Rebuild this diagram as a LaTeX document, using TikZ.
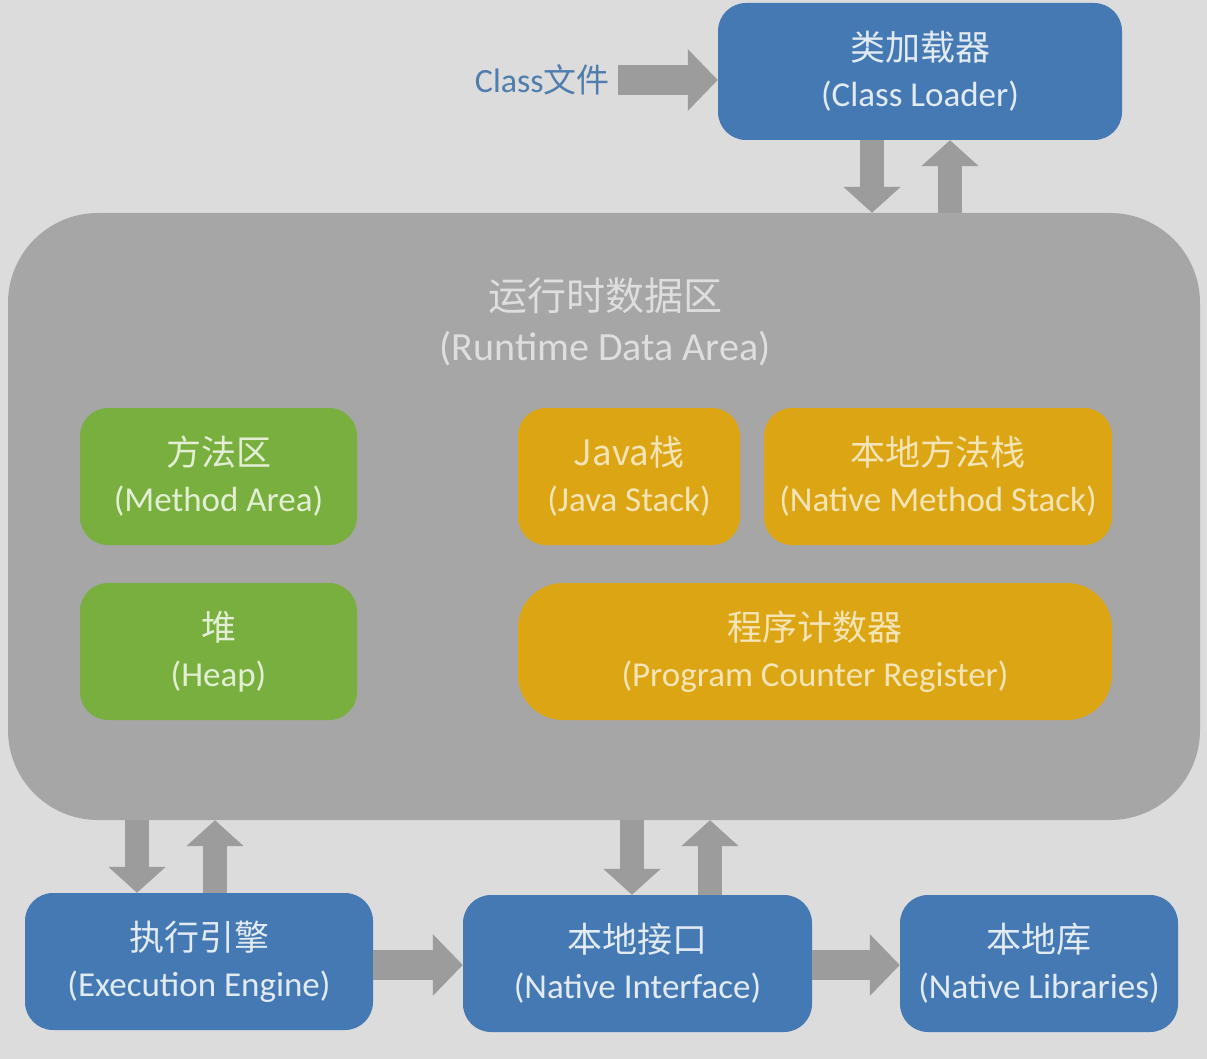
\documentclass[tikz,border=0pt]{standalone}
\usepackage{fontspec}
\setmainfont{Carlito}
\newfontfamily\cjk{Noto Sans CJK SC}
\usetikzlibrary{arrows.meta}
\definecolor{bgc}{HTML}{DCDCDC}
\definecolor{rtc}{HTML}{A6A6A6}
\definecolor{bluec}{HTML}{4479B3}
\definecolor{greenc}{HTML}{79AF3F}
\definecolor{orangec}{HTML}{DBA514}
\definecolor{arrc}{HTML}{9C9C9C}
\definecolor{bluetxt}{HTML}{E2EAF2}
\definecolor{greentxt}{HTML}{E2EFD4}
\definecolor{orangetxt}{HTML}{F4E4B6}
\definecolor{titletxt}{HTML}{DEDEDE}
\definecolor{classtxt}{HTML}{4F7DAD}
\newcommand{\cjkl}[1]{{\cjk\fontsize{35}{46}\selectfont #1}}
\tikzset{
  box/.style={rounded corners=28pt, inner sep=0pt, align=center,
    font=\fontsize{35}{46}\selectfont},
  bluebox/.style={box, fill=bluec, text=bluetxt},
  greenbox/.style={box, fill=greenc, text=greentxt},
  orangebox/.style={box, fill=orangec, text=orangetxt},
  fat/.style={draw=arrc, line width=24pt, -{Triangle[width=56pt,length=26pt]}, arrc},
  fatw/.style={draw=arrc, line width=30pt, -{Triangle[width=60pt,length=30pt]}, arrc},
}
\begin{document}
\begin{tikzpicture}[x=1pt,y=-1pt]
\fill[bgc] (0,0) rectangle (1207,1059);
\useasboundingbox (0,0) rectangle (1207,1059);

% runtime data area
\node[fill=rtc, rounded corners=90pt, minimum width=1192pt, minimum height=607pt, inner sep=0pt] (rt) at (604,516.5) {};
\node[text=titletxt, align=center, font=\fontsize{40}{50}\selectfont] (rttitle) at (605,322) {{\cjk\fontsize{39}{50}\selectfont 运行时数据区}\\(Runtime Data Area)};

% class loader
\node[bluebox, minimum width=404pt, minimum height=137pt] (cl) at (920,71.5) {\cjkl{类加载器}\\(Class Loader)};
\node[text=classtxt, font=\fontsize{34}{36}\selectfont, inner sep=0pt, anchor=east] (cf) at (610,80) {Class{\cjk\fontsize{33}{36}\selectfont 文件}};

% inner boxes
\node[greenbox, minimum width=277pt, minimum height=137pt] (ma) at (218.5,476.5) {\cjkl{方法区}\\(Method Area)};
\node[greenbox, minimum width=277pt, minimum height=137pt] (heap) at (218.5,651.5) {\cjkl{堆}\\(Heap)};
\node[orangebox, minimum width=222pt, minimum height=137pt] (js) at (629,476.5) {\cjkl{Java栈}\\(Java Stack)};
\node[orangebox, minimum width=348pt, minimum height=137pt] (nms) at (938,476.5) {\cjkl{本地方法栈}\\(Native Method Stack)};
\node[orangebox, rounded corners=45pt, minimum width=594pt, minimum height=137pt] (pc) at (815,651.5) {\cjkl{程序计数器}\\(Program Counter Register)};

% bottom boxes
\node[bluebox, minimum width=348pt, minimum height=137pt] (ee) at (199,961.5) {\cjkl{执行引擎}\\(Execution Engine)};
\node[bluebox, minimum width=349pt, minimum height=137pt] (ni) at (637.5,963.5) {\cjkl{本地接口}\\(Native Interface)};
\node[bluebox, minimum width=278pt, minimum height=137pt] (nl) at (1039,963.5) {\cjkl{本地库}\\(Native Libraries)};

% x positions for vertical arrows
\coordinate (xa) at (872,0);
\coordinate (xb) at (950,0);
\coordinate (xc) at (137,0);
\coordinate (xd) at (215,0);
\coordinate (xe) at (632,0);
\coordinate (xf) at (710,0);
\coordinate (ya) at (0,965);

% arrows
\draw[fatw] (cf.east) ++(8,0) coordinate (cfs) -- (cl.west |- cfs);
\draw[fat] (cl.south -| xa) -- (rt.north -| xa);
\draw[fat] (rt.north -| xb) -- (cl.south -| xb);
\draw[fat] (rt.south -| xc) -- (ee.north -| xc);
\draw[fat] (ee.north -| xd) -- (rt.south -| xd);
\draw[fat] (rt.south -| xe) -- (ni.north -| xe);
\draw[fat] (ni.north -| xf) -- (rt.south -| xf);
\draw[fatw] (ee.east |- ya) -- (ni.west |- ya);
\draw[fatw] (ni.east |- ya) -- (nl.west |- ya);
\end{tikzpicture}
\end{document}
